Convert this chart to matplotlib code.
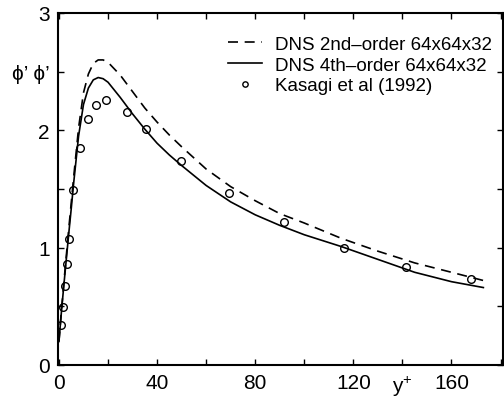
import matplotlib
matplotlib.use('Agg')
import numpy as np
import matplotlib.pyplot as plt

plt.rcParams['font.family'] = ['Liberation Sans', 'DejaVu Sans']
plt.rcParams['mathtext.fontset'] = 'custom'
plt.rcParams['mathtext.rm'] = 'Liberation Sans'

# y+ positions of the DNS curves
yplus = [0, 1, 2, 3, 4, 5, 6, 8, 10, 12, 14, 16, 18, 20, 25, 30, 35, 40, 45,
         50, 60, 70, 80, 90, 100, 115, 130, 145, 160, 173]
dns2 = [0.2, 0.46, 0.70, 0.93, 1.16, 1.38, 1.60, 2.02, 2.32, 2.48, 2.57, 2.60,
        2.60, 2.58, 2.47, 2.33, 2.19, 2.07, 1.96, 1.86, 1.67, 1.52, 1.40, 1.29,
        1.21, 1.08, 0.97, 0.87, 0.79, 0.72]
dns4 = [0.2, 0.45, 0.68, 0.90, 1.12, 1.33, 1.55, 1.95, 2.22, 2.36, 2.43, 2.45,
        2.44, 2.41, 2.28, 2.14, 2.01, 1.89, 1.79, 1.70, 1.53, 1.39, 1.28, 1.19,
        1.11, 1.01, 0.90, 0.79, 0.71, 0.66]

# Kasagi et al (1992)
kas_x = [1, 1.6, 2.4, 3.2, 4, 5.8, 8.7, 11.8, 15.2, 19.1, 27.7, 35.4, 49.7,
         69.5, 91.8, 116, 141.6, 168]
kas_y = [0.34, 0.49, 0.67, 0.86, 1.07, 1.49, 1.85, 2.10, 2.22, 2.26, 2.16,
         2.01, 1.74, 1.47, 1.22, 1.0, 0.835, 0.73]

xticks = [0, 20, 40, 60, 80, 100, 120, 140, 160, 180]
xlabels = ['0', '', '40', '', '80', '', '120', r'y$^{+}$', '160', '']
yticks = [0, 0.5, 1, 1.5, 2, 2.5, 3]
ylabels = ['0', '', '1', '', '2', 'ϕ’ ϕ’', '3']

fig = plt.figure(figsize=(5.04, 4.02), dpi=100)
ax = fig.add_axes([0.115, 0.0896, 0.883, 0.8756])

ax.plot(yplus, dns2, color='black', lw=1.2, dashes=(6, 4),
        label='DNS 2nd–order 64x64x32')
ax.plot(yplus, dns4, color='black', lw=1.2, label='DNS 4th–order 64x64x32')
ax.plot(kas_x, kas_y, 'o', mfc='none', mec='black', ms=5.5, mew=1.0,
        label='Kasagi et al (1992)')

ax.set_xlim(-0.4, 181)
ax.set_ylim(0, 3)
ax.set_xticks(xticks)
ax.set_xticklabels(xlabels)
ax.set_yticks(yticks)
ax.set_yticklabels(ylabels)
ax.tick_params(direction='in', length=4, width=1, top=True, right=True,
               labelsize=15, pad=6)
for s in ax.spines.values():
    s.set_linewidth(1.5)

leg = ax.legend(loc='upper right', frameon=False, fontsize=13.5,
                handlelength=1.8, handletextpad=0.7, labelspacing=0.2,
                borderaxespad=0.9, markerscale=0.7, numpoints=1,
                bbox_to_anchor=(1.03, 1.005))

fig.savefig('out.png', dpi=100)
